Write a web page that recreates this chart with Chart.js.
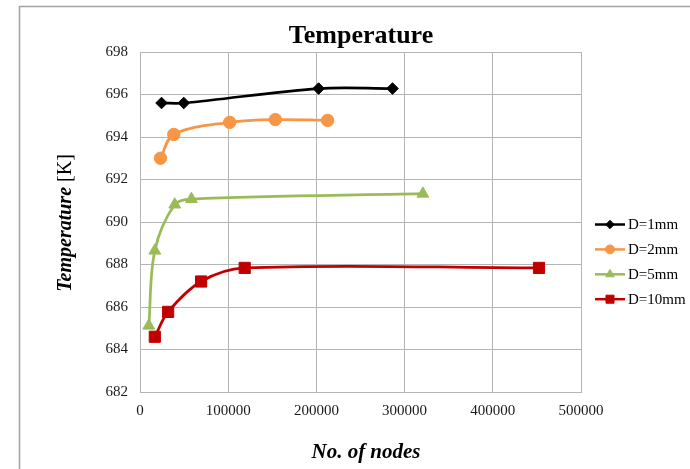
<!DOCTYPE html>
<html>
<head>
<meta charset="utf-8">
<title>Temperature</title>
<script src="https://cdn.jsdelivr.net/npm/chart.js@4/dist/chart.umd.min.js"></script>
<style>
  html, body { margin: 0; padding: 0; background: #ffffff; }
  #wrap { width: 690px; height: 469px; position: relative; }
</style>
</head>
<body>
<div id="wrap"><canvas id="chart" width="690" height="469"></canvas></div>
<script>
// Axis ticks
const xTicks = [0, 100000, 200000, 300000, 400000, 500000];
const yTicks = [682, 684, 686, 688, 690, 692, 694, 696, 698];

// Series: mesh size (number of nodes) vs. temperature [K]
const seriesNames = ['D=1mm', 'D=2mm', 'D=5mm', 'D=10mm'];

const nodesD1 = [24400, 49600, 202500, 286300];
const tempD1  = [695.60, 695.60, 696.28, 696.28];

const nodesD2 = [23200, 38300, 101700, 153500, 212700];
const tempD2  = [693.00, 694.12, 694.69, 694.82, 694.78];

const nodesD5 = [10000, 16800, 39400, 58300, 320700];
const tempD5  = [685.12, 688.65, 690.82, 691.08, 691.33];

const nodesD10 = [16800, 31900, 69300, 118700, 452400];
const tempD10  = [684.60, 685.77, 687.20, 687.84, 687.84];

const seriesColors = ['#000000', '#f79646', '#9bbb59', '#c00000'];
const seriesMarkers = ['rectRot', 'circle', 'triangle', 'rect'];
const markerRadius = [5.8, 6.2, 6.8, 7.9];

const SERIF = '"Liberation Serif", "Times New Roman", serif';

function toPoints(xs, ys) {
  return xs.map((x, i) => ({ x: x, y: ys[i] }));
}

const seriesData = [
  toPoints(nodesD1, tempD1),
  toPoints(nodesD2, tempD2),
  toPoints(nodesD5, tempD5),
  toPoints(nodesD10, tempD10)
];

const datasets = seriesNames.map((name, i) => ({
  label: name,
  data: seriesData[i],
  borderColor: seriesColors[i],
  backgroundColor: seriesColors[i],
  borderWidth: 2.75,
  tension: 0.35,
  pointStyle: seriesMarkers[i],
  pointRadius: markerRadius[i],
  pointBorderWidth: 1,
  pointBorderColor: seriesColors[i],
  pointBackgroundColor: seriesColors[i],
  pointHoverRadius: markerRadius[i],
  fill: false
}));

// Frame, titles and the legend (line with marker in the middle)
const decorations = {
  id: 'decorations',
  beforeDraw(chart) {
    const ctx = chart.ctx;
    ctx.save();
    ctx.fillStyle = '#ffffff';
    ctx.fillRect(0, 0, chart.width, chart.height);
    ctx.strokeStyle = '#a3a3a3';
    ctx.lineWidth = 1.5;
    ctx.beginPath();
    ctx.moveTo(19.5, chart.height);
    ctx.lineTo(19.5, 6.5);
    ctx.lineTo(chart.width, 6.5);
    ctx.stroke();
    ctx.restore();
  },
  afterDraw(chart) {
    const ctx = chart.ctx;
    ctx.save();
    ctx.fillStyle = '#000000';

    // Chart title
    ctx.font = 'bold 26px ' + SERIF;
    ctx.textAlign = 'center';
    ctx.textBaseline = 'alphabetic';
    ctx.fillText('Temperature', 361, 42.5);

    // X axis title
    ctx.font = 'italic bold 21px ' + SERIF;
    ctx.fillText('No. of nodes', 366, 458);

    // Y axis title: bold italic name followed by regular unit
    const part1 = 'Temperature';
    const part2 = ' [K]';
    const f1 = 'italic bold 20px ' + SERIF;
    const f2 = '20px ' + SERIF;
    ctx.font = f1;
    const w1 = ctx.measureText(part1).width;
    ctx.font = f2;
    const w2 = ctx.measureText(part2).width;
    ctx.translate(70.5, 223);
    ctx.rotate(-Math.PI / 2);
    ctx.textAlign = 'left';
    ctx.font = f1;
    ctx.fillText(part1, -(w1 + w2) / 2, 0);
    ctx.font = f2;
    ctx.fillText(part2, -(w1 + w2) / 2 + w1, 0);
    ctx.setTransform(1, 0, 0, 1, 0, 0);

    // Legend
    const lx0 = 595, lx1 = 625, tx = 628;
    const ly0 = 224.5, lstep = 24.9;
    ctx.font = '15px ' + SERIF;
    ctx.textAlign = 'left';
    ctx.textBaseline = 'middle';
    seriesNames.forEach((name, i) => {
      const y = ly0 + i * lstep;
      ctx.strokeStyle = seriesColors[i];
      ctx.fillStyle = seriesColors[i];
      ctx.lineWidth = 2.5;
      ctx.beginPath();
      ctx.moveTo(lx0, y);
      ctx.lineTo(lx1, y);
      ctx.stroke();
      ctx.lineWidth = 1;
      Chart.helpers.drawPoint(ctx, {
        pointStyle: seriesMarkers[i],
        radius: markerRadius[i] * 0.72,
        rotation: 0,
        borderWidth: 1
      }, (lx0 + lx1) / 2, y);
      ctx.fillStyle = '#000000';
      ctx.fillText(name, tx, y + 1);
    });
    ctx.restore();
  }
};

const gridColor = '#b5b5b5';

new Chart(document.getElementById('chart'), {
  type: 'line',
  data: { datasets: datasets },
  plugins: [decorations],
  options: {
    responsive: false,
    animation: false,
    devicePixelRatio: 1,
    layout: { padding: { left: 0, top: 52, right: 109, bottom: 37 } },
    plugins: {
      legend: { display: false },
      title: { display: false },
      tooltip: { enabled: false }
    },
    scales: {
      x: {
        type: 'linear',
        min: xTicks[0],
        max: xTicks[xTicks.length - 1],
        afterBuildTicks(scale) { scale.ticks = xTicks.map(v => ({ value: v })); },
        afterFit(scale) { scale.height = 40; },
        ticks: {
          callback: v => String(v),
          font: { family: SERIF, size: 15 },
          color: '#1a1a1a',
          padding: 10,
          maxRotation: 0
        },
        grid: { color: gridColor, lineWidth: 1, drawTicks: false },
        border: { color: gridColor, width: 1 }
      },
      y: {
        type: 'linear',
        min: yTicks[0],
        max: yTicks[yTicks.length - 1],
        afterBuildTicks(scale) { scale.ticks = yTicks.map(v => ({ value: v })); },
        afterFit(scale) { scale.width = 140; },
        ticks: {
          callback: v => String(v),
          font: { family: SERIF, size: 15 },
          color: '#1a1a1a',
          padding: 12
        },
        grid: { color: gridColor, lineWidth: 1, drawTicks: false },
        border: { color: gridColor, width: 1 }
      }
    }
  }
});
</script>
</body>
</html>
